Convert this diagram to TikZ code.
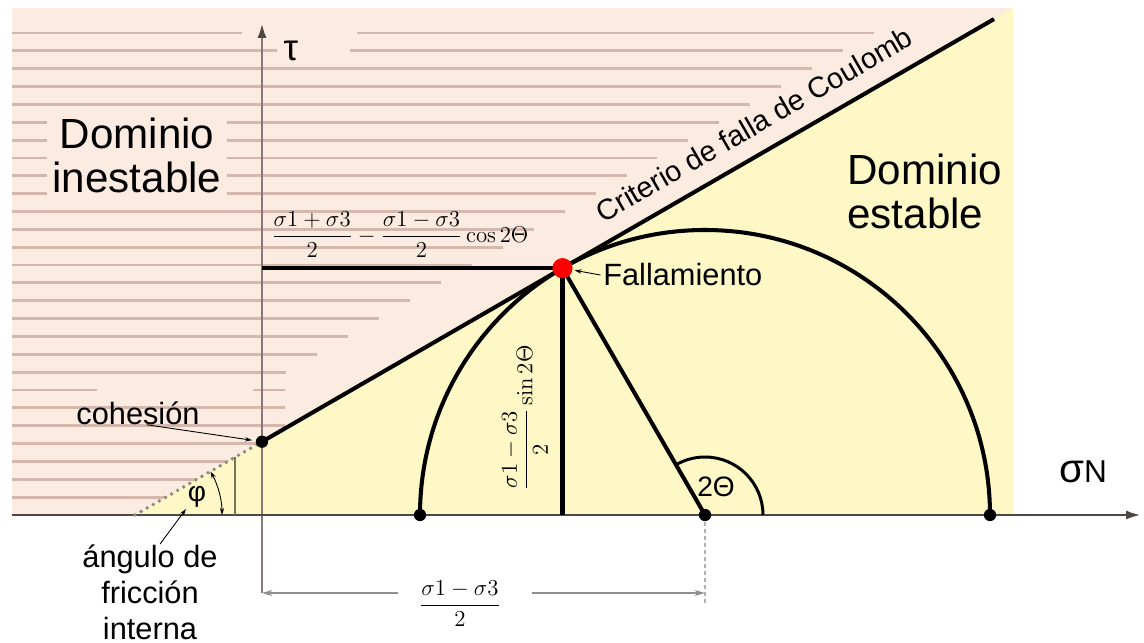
\RequirePackage{fix-cm}
\documentclass[tikz,border=0pt]{standalone}
\usepackage{amsmath}
\usepackage[no-math]{fontspec}
\setmainfont{Liberation Sans}
\usepackage{xcolor}
\usepackage{tikz}
\usetikzlibrary{positioning,arrows.meta}

\definecolor{bgpink}{HTML}{FBEBE1}
\definecolor{bgyellow}{HTML}{FDF8C5}
\definecolor{stripe}{HTML}{D4B8AE}
\definecolor{axgray}{HTML}{4F4646}
\definecolor{vaxgray}{HTML}{8A7878}
\definecolor{dotgray}{HTML}{8C8C7C}
\definecolor{olivegray}{HTML}{75755A}
\definecolor{dimgray}{HTML}{8F8F8F}

\begin{document}
\begin{tikzpicture}[
    x=0.02cm, y=0.02cm,
    font=\fontsize{17.5}{20.5}\selectfont,
    fatline/.style={line width=2.3pt, black},
    axisarr/.style={line width=1.7pt, draw=axgray, -{Latex[length=9pt,width=5pt,color=axgray]}},
    dimarr/.style={line width=0.8pt, draw=dimgray, -{Stealth[length=6pt,width=3.5pt]}},
    ptr/.style={line width=0.5pt, -{Stealth[length=4pt,width=2.5pt]}},
    blackdot/.style={circle, fill=black, inner sep=0pt, minimum size=7pt},
    lbl/.style={inner sep=0pt, align=center},
    domlbl/.style={font=\fontsize{24}{25}\selectfont, align=center, inner sep=0pt},
    eqn/.style={font=\fontsize{13}{15}\selectfont, inner sep=1pt},
]
\useasboundingbox (0,0) rectangle (1144,643);

% background with stripes
\fill[bgpink] (12,128) rectangle (1013,635);
\foreach \k in {0,...,26} {
  \pgfmathsetmacro{\yy}{610-17.85*\k}
  \pgfmathsetmacro{\xe}{max(39+(\yy-128)/0.5774,285)}
  \draw[stripe, line width=1.6pt] (12,\yy) -- (\xe,\yy);
}
\fill[bgyellow] (135,128) -- (1013,635) -- (1013,128) -- cycle;
\fill[bgpink] (242,605) rectangle (357,616);
\fill[bgpink] (277,588) rectangle (350,615);
\fill[bgpink] (97,240) rectangle (253,263);

\coordinate (orig) at (135,128);
\coordinate (coh) at (262,201.3);
\coordinate (cend) at (994,623.9);
\coordinate (fall) at (562.5,374.8);
\coordinate (tauax) at (262,374.8);
\coordinate (fallft) at (562.5,128);
\coordinate (s3) at (420,128);
\coordinate (ctr) at (705,128);
\coordinate (s1) at (990,128);
\coordinate (phitop) at (235,185.7);
\coordinate (phift) at (235,128);
\coordinate (phiarc) at (222,128);
\coordinate (tharc) at (763,128);
\coordinate (xstart) at (12,128);
\coordinate (xend) at (1142,128);
\coordinate (ybot) at (262,50);
\coordinate (ytop) at (262,621);
\coordinate (dimL) at (262,50);
\coordinate (dimR) at (705,50);
\coordinate (gapL) at (398,50);
\coordinate (gapR) at (532,50);
\coordinate (ctrdn) at (705,40);
\coordinate (phiptr) at (186,134);

% axes
\draw[axisarr, draw=vaxgray] (ybot) -- (ytop);
\draw[axisarr] (xstart) -- (xend);

\draw[draw=dotgray, line width=2.2pt, line cap=round, dash pattern=on 0pt off 4pt] (orig) -- (coh);
\draw[draw=olivegray, line width=1.7pt] (phift) -- (phitop);
\draw[ptr, {Stealth[length=4pt,width=2.5pt]}-{Stealth[length=4pt,width=2.5pt]}] (phiarc) arc[start angle=0, end angle=30, radius=87];

\draw[fatline] (coh) -- (cend) node[pos=0.692, sloped, above=0.32cm, inner sep=0pt, font=\fontsize{16.5}{18}\selectfont] (crit) {Criterio de falla de Coulomb};
\draw[fatline] (tauax) -- (fall);
\draw[fatline] (fall) -- (fallft);
\draw[fatline] (fall) -- (ctr);
\draw[fatline] (s3) arc[start angle=180, end angle=0, radius=285];
\draw[line width=1.7pt] (tharc) arc[start angle=0, end angle=120, radius=58];

\draw[dimarr] (gapL) -- (dimL);
\draw[dimarr] (gapR) -- (dimR);
\draw[draw=dimgray!70, line width=1.5pt, dash pattern=on 2pt off 2pt] (ctr) -- (ctrdn);

\node[blackdot] (cohdot) at (coh) {};
\node[blackdot] (s3dot) at (s3) {};
\node[blackdot] (ctrdot) at (ctr) {};
\node[blackdot] (s1dot) at (s1) {};
\node[circle, fill=red, inner sep=0pt, minimum size=11.5pt] (falldot) at (fall) {};

\node[domlbl, fill=bgpink, inner sep=3pt] (inest) at (137,488) {Dominio\\inestable};
\node[domlbl, align=left, anchor=west] (estab) at (847,452) {Dominio\\estable};
\node[lbl, font=\fontsize{21}{21}\selectfont] (tau) at (291,592) {τ};
\node[lbl] (sign) at (1083,171) {{\fontsize{23}{23}\selectfont σ}{\fontsize{18}{18}\selectfont N}};
\node[lbl, font=\fontsize{16}{16}\selectfont] (twoth) at (716,156) {2Θ};
\node[lbl, font=\fontsize{16}{16}\selectfont] (phi) at (197,146) {φ};
\node[lbl] (cohlbl) at (138,230) {cohesión};
\node[lbl] (anglbl) at (150,51) {ángulo de\\fricción\\interna};
\node[lbl, anchor=west] (falllbl) at (603,368) {Fallamiento};

\draw[ptr, shorten >=2pt] ([xshift=0.18cm]cohlbl.south) -- (cohdot);
\draw[ptr] ([xshift=0.2cm]anglbl.north) -- (phiptr);
\draw[ptr, shorten >=1pt] ([xshift=-0.05cm]falllbl.west) -- (falldot);

\node[eqn] (eqtop) at (400,408) {$\dfrac{\sigma1+\sigma3}{2}-\dfrac{\sigma1-\sigma3}{2}\cos 2\Theta$};
\node[eqn, rotate=90] (eqvert) at (525,225) {$\dfrac{\sigma1-\sigma3}{2}\sin 2\Theta$};
\node[eqn] (eqdim) at (460,39) {$\dfrac{\sigma1-\sigma3}{2}$};
\end{tikzpicture}
\end{document}
